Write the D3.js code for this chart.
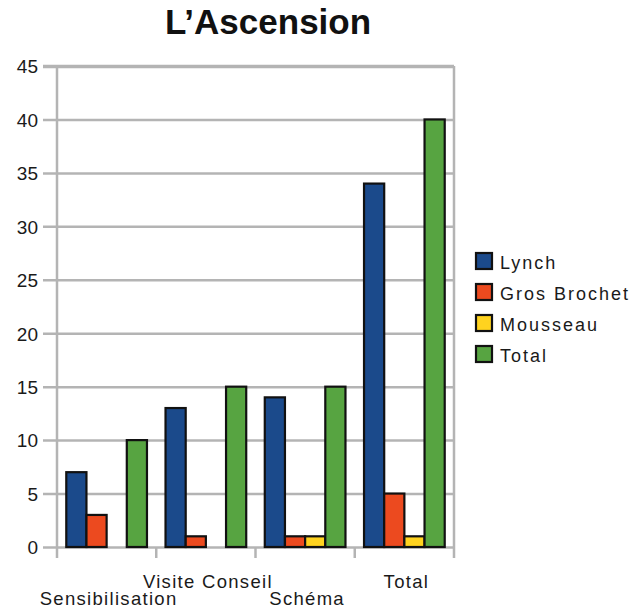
<!DOCTYPE html>
<html>
<head>
<meta charset="utf-8">
<script src="https://cdn.jsdelivr.net/npm/d3@7"></script>
<style>
  html, body { margin: 0; padding: 0; background: #ffffff; }
  svg { display: block; font-family: "Liberation Sans", Arial, sans-serif; }
</style>
</head>
<body>
<svg id="chart" width="636" height="616"></svg>
<script>
// Activity counts per category for each group
const categories = ["Sensibilisation", "Visite Conseil", "Schéma", "Total"];
const series = ["Lynch", "Gros Brochet", "Mousseau", "Total"];
const lynch = [7, 13, 14, 34];
const grosBrochet = [3, 1, 1, 5];
const mousseau = [0, 0, 1, 1];
const total = [10, 15, 15, 40];
const yTicks = [0, 5, 10, 15, 20, 25, 30, 35, 40, 45];
const colors = ["#1b4a8b", "#ec4a1f", "#ffd31f", "#57a441"];

const values = [lynch, grosBrochet, mousseau, total];

const svg = d3.select("#chart");
const plotLeft = 57, plotRight = 454, plotTop = 66, plotBottom = 547;

const x = d3.scaleBand().domain(categories).range([plotLeft, plotRight]).paddingInner(0).paddingOuter(0);
const xs = d3.scaleBand().domain(series).range([0, x.bandwidth()]).paddingInner(0).paddingOuter(0.46);
const y = d3.scaleLinear().domain([0, 45]).range([plotBottom, plotTop]);

const grid = "#b4b4b4";

// Horizontal grid lines with tick labels
const yAxis = d3.axisLeft(y).tickValues(yTicks).tickSize(-(plotRight - plotLeft) - 14).tickPadding(5);
const gy = svg.append("g").attr("transform", `translate(${plotLeft - 14},0)`).call(yAxis);
gy.select(".domain").remove();
gy.selectAll(".tick line").attr("stroke", grid).attr("stroke-width", 2.5).attr("x1", 0);
gy.selectAll(".tick text")
  .attr("font-size", 19).attr("fill", "#1a1a1a").attr("dy", "0.36em")
  .attr("font-family", "Liberation Sans, Arial, sans-serif");
gy.selectAll(".tick").filter(d => d === 45).select("line").attr("stroke-width", 3.5);

// Left and right frame lines
svg.append("line").attr("x1", plotLeft).attr("x2", plotLeft).attr("y1", plotTop).attr("y2", plotBottom + 11)
  .attr("stroke", grid).attr("stroke-width", 2.5);
svg.append("line").attr("x1", plotRight).attr("x2", plotRight).attr("y1", plotTop).attr("y2", plotBottom + 11)
  .attr("stroke", grid).attr("stroke-width", 2.5);

// Category boundary ticks below the baseline
const bounds = categories.map(c => x(c)).concat([plotRight]);
svg.append("g").selectAll("line").data(bounds.slice(1, -1)).join("line")
  .attr("x1", d => d).attr("x2", d => d)
  .attr("y1", plotBottom).attr("y2", plotBottom + 11)
  .attr("stroke", grid).attr("stroke-width", 2.5);

// Bars
const groups = svg.append("g").selectAll("g").data(categories).join("g")
  .attr("transform", c => `translate(${x(c)},0)`);
groups.selectAll("rect")
  .data((c, ci) => series.map((s, si) => ({ s, si, v: values[si][ci] })).filter(d => d.v > 0))
  .join("rect")
  .attr("x", d => xs(d.s))
  .attr("y", d => y(d.v))
  .attr("width", xs.bandwidth())
  .attr("height", d => plotBottom - y(d.v))
  .attr("fill", d => colors[d.si])
  .attr("stroke", "#111")
  .attr("stroke-width", 2.2);

// Category labels, staggered on two rows
svg.append("g").selectAll("text").data(categories).join("text")
  .attr("x", c => x(c) + x.bandwidth() / 2 + 2)
  .attr("y", (c, i) => i % 2 === 0 ? 605 : 588)
  .attr("text-anchor", "middle")
  .attr("font-size", 18.5).attr("letter-spacing", 1.3).attr("fill", "#1a1a1a")
  .text(c => c);

// Title
svg.append("text").attr("x", 268).attr("y", 34).attr("text-anchor", "middle")
  .attr("font-size", 35).attr("font-weight", "bold").attr("fill", "#111")
  .text("L’Ascension");

// Legend
const lg = svg.append("g").attr("transform", "translate(476,253)");
const item = lg.selectAll("g").data(series).join("g")
  .attr("transform", (d, i) => `translate(0,${i * 31})`);
item.append("rect").attr("width", 16).attr("height", 16)
  .attr("fill", (d, i) => colors[i]).attr("stroke", "#111").attr("stroke-width", 2.2);
item.append("text").attr("x", 24).attr("y", 16)
  .attr("font-size", 18).attr("letter-spacing", 2).attr("fill", "#1a1a1a")
  .text(d => d);
</script>
</body>
</html>
